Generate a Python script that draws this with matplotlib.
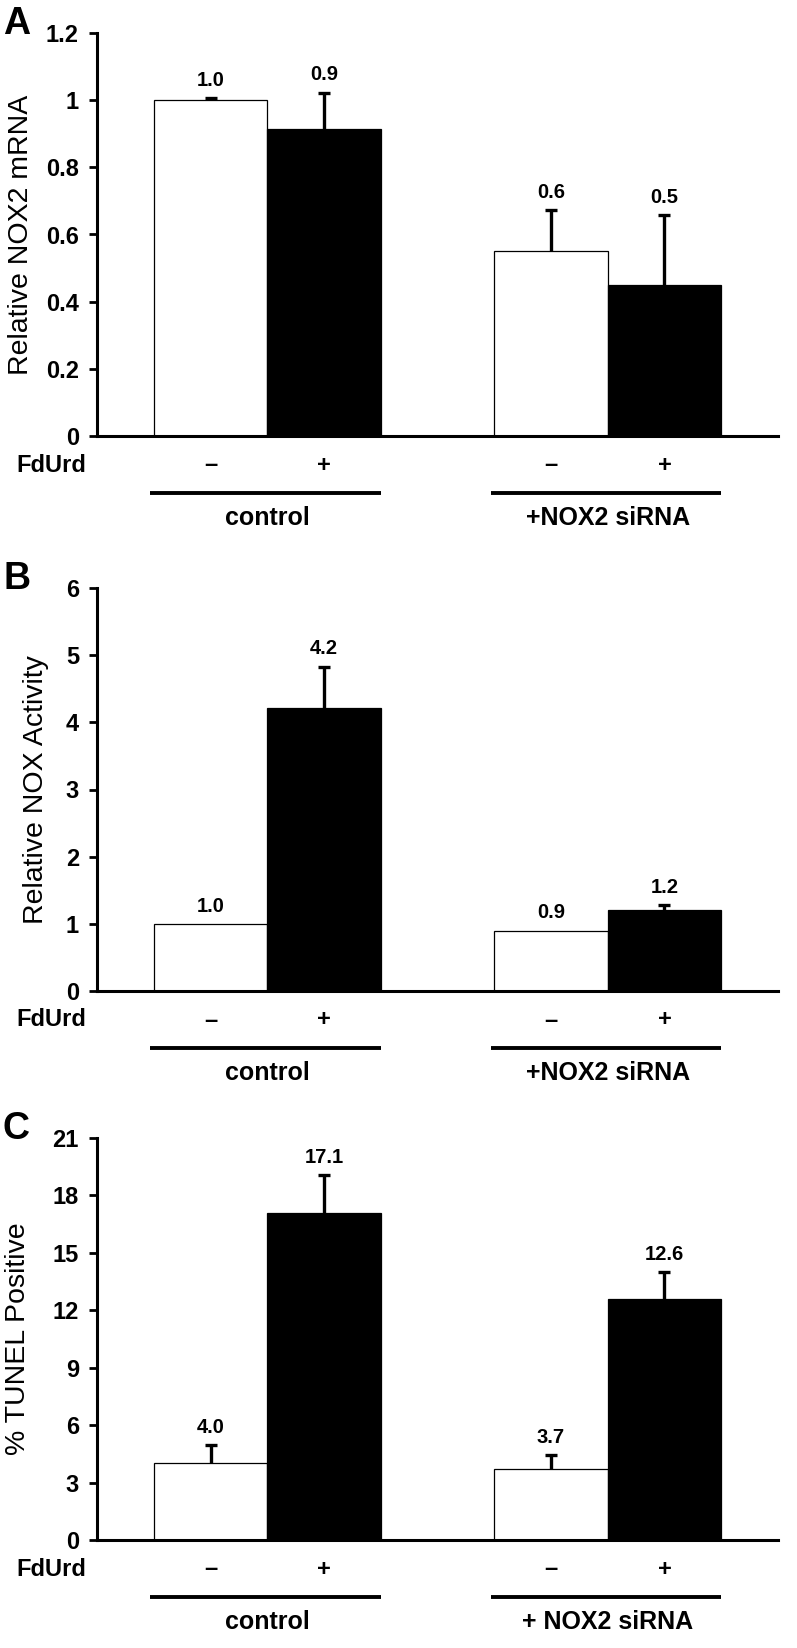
import numpy as np
import matplotlib
matplotlib.use('Agg')
import matplotlib.pyplot as plt
import matplotlib.transforms as mtransforms

plt.rcParams['font.family'] = ['Liberation Sans', 'DejaVu Sans']

# data: (FdUrd -, FdUrd +) for each siRNA group
fdurd_signs = ['\u2013', '+']

a_groups = ['control', '+NOX2 siRNA']
a_minus = [1.0, 0.55]
a_plus = [0.915, 0.45]
a_minus_err = [0.005, 0.123]
a_plus_err = [0.107, 0.208]
a_minus_txt = ['1.0', '0.6']
a_plus_txt = ['0.9', '0.5']
a_ticks = [0, 0.2, 0.4, 0.6, 0.8, 1, 1.2]
a_ticklabels = ['0', '0.2', '0.4', '0.6', '0.8', '1', '1.2']

b_groups = ['control', '+NOX2 siRNA']
b_minus = [1.0, 0.9]
b_plus = [4.21, 1.21]
b_minus_err = [0.0, 0.0]
b_plus_err = [0.62, 0.07]
b_minus_txt = ['1.0', '0.9']
b_plus_txt = ['4.2', '1.2']
b_ticks = [0, 1, 2, 3, 4, 5, 6]

c_groups = ['control', '+ NOX2 siRNA']
c_minus = [4.0, 3.7]
c_plus = [17.1, 12.6]
c_minus_err = [0.96, 0.74]
c_plus_err = [1.96, 1.38]
c_minus_txt = ['4.0', '3.7']
c_plus_txt = ['17.1', '12.6']
c_ticks = [0, 3, 6, 9, 12, 15, 18, 21]

W, H = 797, 1648
fig = plt.figure(figsize=(W / 100, H / 100), dpi=100)


def px_axes(left, top, right, bottom):
    return fig.add_axes([left / W, 1 - bottom / H, (right - left) / W, (bottom - top) / H])


def panel(ax, letter, groups, minus, plus, minus_err, plus_err, minus_txt, plus_txt,
          ticks, ticklabels, ylabel, ylab_x):
    bw = 0.333
    x = np.arange(len(groups))
    xm = x - bw / 2
    xp = x + bw / 2
    ax.bar(xm, minus, bw, color='white', edgecolor='black', linewidth=0.9, zorder=2)
    ax.bar(xp, plus, bw, color='black', edgecolor='black', linewidth=0.9, zorder=2)
    for xs, vals, errs, txts in [(xm, minus, minus_err, minus_txt), (xp, plus, plus_err, plus_txt)]:
        for xi, v, e, t in zip(xs, vals, errs, txts):
            if e > 0:
                # upper error only, cap on top
                ax.errorbar(xi, v, yerr=[[0], [e]], fmt='none', ecolor='black',
                            elinewidth=2.4, capsize=0, zorder=3)
                ax.plot(xi, v + e, marker='_', ms=9, mew=2.4, color='black', zorder=3)
            ax.annotate(t, (xi, v + e), xytext=(0, 6), textcoords='offset points',
                        ha='center', va='bottom', fontsize=14.5, fontweight='bold')

    ax.set_xlim(-0.5, 1.5)
    ax.set_ylim(ticks[0], ticks[-1])
    ax.set_yticks(ticks)
    ax.set_yticklabels(ticklabels, fontsize=17, fontweight='bold')
    ax.set_xticks([])
    ax.tick_params(axis='y', length=6, width=2, pad=7, direction='out')
    for s in ['top', 'right']:
        ax.spines[s].set_visible(False)
    for s in ['left', 'bottom']:
        ax.spines[s].set_linewidth(2.2)
    ax.spines['left'].set_zorder(4)
    ax.spines['bottom'].set_zorder(4)

    ax.set_ylabel(ylabel, fontsize=20.5)
    ax.yaxis.set_label_coords(ylab_x, 0.5)

    # labels under the x axis
    def below(dy_px):
        return mtransforms.ScaledTranslation(0, -dy_px / 100, fig.dpi_scale_trans)

    tx = ax.get_xaxis_transform()
    for i in range(len(groups)):
        ax.text(xm[i], 0, fdurd_signs[0], transform=tx + below(29), ha='center', va='center',
                fontsize=17, fontweight='bold')
        ax.text(xp[i], 0, fdurd_signs[1], transform=tx + below(29), ha='center', va='center',
                fontsize=17, fontweight='bold')
        ax.plot([x[i] - bw - 0.01, x[i] + bw], [0, 0], color='black', lw=2.8,
                transform=tx + below(57), clip_on=False, solid_capstyle='butt')
        ax.text(x[i], 0, groups[i], transform=tx + below(82), ha='center', va='center',
                fontsize=18, fontweight='bold')
    ax.text(-0.016, 0, 'FdUrd', transform=ax.transAxes + below(29), ha='right', va='center',
            fontsize=17, fontweight='bold')

    bb = ax.get_position()
    fig.text(3 / W, bb.y1 + 9 / H, letter, fontsize=27, fontweight='bold', ha='left', va='center')


ax_a = px_axes(97, 33, 778, 436)
panel(ax_a, 'A', a_groups, a_minus, a_plus, a_minus_err, a_plus_err, a_minus_txt, a_plus_txt,
      a_ticks, a_ticklabels, 'Relative NOX2 mRNA', -0.093)

ax_b = px_axes(97, 588, 778, 991)
panel(ax_b, 'B', b_groups, b_minus, b_plus, b_minus_err, b_plus_err, b_minus_txt, b_plus_txt,
      b_ticks, [str(t) for t in b_ticks], 'Relative NOX Activity', -0.070)

ax_c = px_axes(97, 1138, 778, 1540)
panel(ax_c, 'C', c_groups, c_minus, c_plus, c_minus_err, c_plus_err, c_minus_txt, c_plus_txt,
      c_ticks, [str(t) for t in c_ticks], '% TUNEL Positive', -0.097)

fig.savefig('out.png', dpi=100)
